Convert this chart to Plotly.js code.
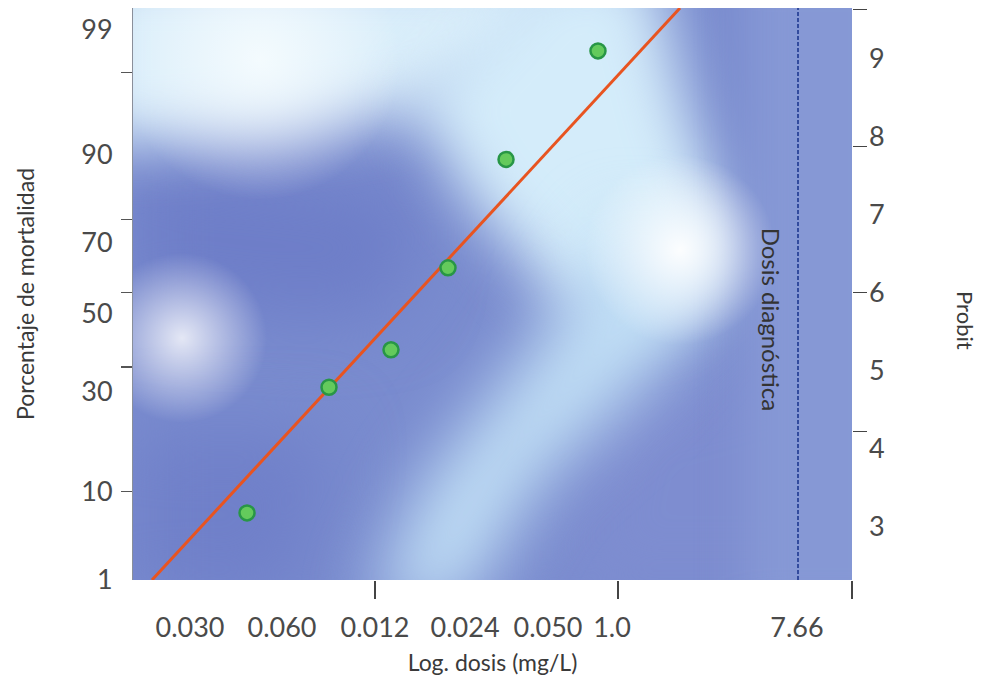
<!DOCTYPE html>
<html>
<head>
<meta charset="utf-8">
<script src="https://cdn.plot.ly/plotly-3.0.1.min.js"></script>
<style>html,body{margin:0;padding:0;background:#fff;}#chart{width:990px;height:686px;}</style>
</head>
<body>
<div id="chart"></div>
<script>
// ---- Data (x in relative log-dose position units 0-100, y in probit units) ----
const xTickPos    = [7.93, 20.72, 33.66, 46.18, 57.72, 66.62, 92.35];
const xTickLabels = ['0.030', '0.060', '0.012', '0.024', '0.050', '1.0', '7.66'];
const xTickMarks  = [33.66, 67.45, 100];

const pctTickPos    = [9.37, 7.77, 6.64, 5.74, 4.73, 3.45, 2.32];
const pctTickLabels = ['99', '90', '70', '50', '30', '10', '1'];
const pctTickMarks  = [8.82, 6.94, 6.0, 5.05, 3.45];

const probitTicks     = [3, 4, 5, 6, 7, 8, 9];
const probitTickMarks = [9.63, 7.88, 6.0, 4.22];

const obsX = [15.86, 27.26, 35.88, 43.81, 51.88, 64.67];
const obsY = [3.18, 4.79, 5.27, 6.32, 7.71, 9.10];

const fitX = [2.64, 76.08];
const fitY = [2.32, 9.65];

const diagDose = 92.49;
const yRange = [2.32, 9.65];
const xRange = [0, 100];

// ---- Background (decorative gradient) ----
function makeBg() {
  const W = 719, H = 572, ox = 133, oy = 8;
  const c = document.createElement('canvas');
  c.width = W; c.height = H;
  const g = c.getContext('2d');
  g.fillStyle = 'rgb(122,140,207)';
  g.fillRect(0, 0, W, H);
  function poly(pts, col, blur) {
    g.filter = 'blur(' + blur + 'px)';
    g.fillStyle = col;
    g.beginPath();
    pts.forEach((p, i) => { const x = p[0] - ox, y = p[1] - oy; if (i) g.lineTo(x, y); else g.moveTo(x, y); });
    g.closePath();
    g.fill();
  }
  function blob(x, y, r, col) {
    g.filter = 'none';
    const gr = g.createRadialGradient(x - ox, y - oy, 0, x - ox, y - oy, r);
    gr.addColorStop(0, col);
    gr.addColorStop(1, 'rgba(255,255,255,0)');
    g.fillStyle = gr;
    g.fillRect(0, 0, W, H);
  }
  // darker zones
  poly([[130,160],[420,190],[400,310],[300,320],[130,300]], 'rgb(110,126,200)', 35);
  poly([[130,430],[330,430],[300,600],[130,600]], 'rgb(112,128,201)', 35);
  poly([[600,400],[860,330],[860,600],[560,600]], 'rgb(126,141,208)', 35);
  // light top-left
  poly([[80,-40],[580,-40],[520,60],[420,110],[300,130],[180,140],[80,145]], 'rgb(218,238,250)', 30);
  // diagonal band
  poly([[410,100],[540,-40],[650,-40],[690,120],[740,250],[660,330],[560,300],[470,200]], 'rgb(212,236,250)', 30);
  poly([[620,220],[745,260],[650,380],[540,480],[460,610],[370,610],[420,490],[530,350]], 'rgb(192,222,245)', 34);
  // right strip
  poly([[745,-40],[900,-40],[900,620],[745,620]], 'rgb(134,152,213)', 22);
  // bright blobs
  blob(680, 250, 95, 'rgba(255,255,255,0.95)');
  blob(182, 338, 85, 'rgba(255,255,255,0.8)');
  blob(260, 60, 140, 'rgba(250,254,255,0.8)');
  return c.toDataURL('image/png');
}

const fam = 'Lato, "Open Sans", sans-serif';
const tickFont = {family: fam, size: 27, color: '#4a4a4a'};
const titleFont = {family: fam, size: 23, color: '#3a3a3a'};

const traces = [
  {
    x: fitX, y: fitY, type: 'scatter', mode: 'lines',
    line: {color: 'rgb(232,84,32)', width: 3},
    hoverinfo: 'skip', showlegend: false
  },
  {
    x: [diagDose, diagDose], y: yRange, type: 'scatter', mode: 'lines',
    line: {color: 'rgb(25,50,140)', width: 1.5, dash: '4px,2px'},
    hoverinfo: 'skip', showlegend: false
  },
  {
    x: obsX, y: obsY, type: 'scatter', mode: 'markers',
    marker: {size: 15, color: 'rgb(100,202,92)', line: {color: 'rgb(40,150,70)', width: 2.5}},
    hoverinfo: 'skip', showlegend: false
  }
];

const layout = {
  width: 990, height: 686,
  margin: {l: 133, r: 138, t: 8, b: 106},
  paper_bgcolor: '#ffffff',
  plot_bgcolor: 'rgb(122,140,207)',
  showlegend: false,
  xaxis: {
    range: xRange, showgrid: false, zeroline: false, showline: false,
    tickmode: 'array', tickvals: xTickPos, ticktext: xTickLabels,
    ticks: '', ticklabelstandoff: 29, tickfont: tickFont,
    title: {text: 'Log. dosis (mg/L)', font: titleFont, standoff: 12}
  },
  xaxis2: {
    range: xRange, overlaying: 'x', side: 'bottom', showgrid: false, zeroline: false,
    tickmode: 'array', tickvals: xTickMarks, ticks: 'outside', ticklen: 18,
    tickcolor: '#444', tickwidth: 1.5, showticklabels: false
  },
  yaxis: {
    range: yRange, showgrid: false, zeroline: false,
    showline: true, linecolor: '#8a8f9a', linewidth: 1,
    tickmode: 'array', tickvals: pctTickPos, ticktext: pctTickLabels,
    ticks: '', ticklabelstandoff: 14, tickfont: tickFont,
    title: {text: 'Porcentaje de mortalidad', font: titleFont, standoff: 40}
  },
  yaxis3: {
    range: yRange, overlaying: 'y', side: 'left', showgrid: false, zeroline: false,
    tickmode: 'array', tickvals: pctTickMarks, ticks: 'outside', ticklen: 11,
    tickcolor: '#555', tickwidth: 1.2, showticklabels: false
  },
  yaxis2: {
    range: yRange, overlaying: 'y', side: 'right', showgrid: false, zeroline: false,
    tickmode: 'array', tickvals: probitTicks, ticks: '', ticklabelstandoff: 16,
    tickfont: tickFont
  },
  yaxis4: {
    range: yRange, overlaying: 'y', side: 'right', showgrid: false, zeroline: false,
    tickmode: 'array', tickvals: probitTickMarks, ticks: 'outside', ticklen: 14,
    tickcolor: '#444', tickwidth: 1.2, showticklabels: false
  },
  images: [{
    source: makeBg(), xref: 'paper', yref: 'paper', x: 0, y: 1,
    sizex: 1, sizey: 1, sizing: 'stretch', layer: 'below', xanchor: 'left', yanchor: 'top'
  }],
  annotations: [
    {
      text: 'Dosis diagnóstica', x: 88.8, y: 5.65, xref: 'x', yref: 'y',
      showarrow: false, textangle: 90, font: {family: fam, size: 24, color: '#333'}
    },
    {
      text: 'Probit', x: 1.1586, y: 5.65, xref: 'paper', yref: 'y', xanchor: 'center',
      showarrow: false, textangle: 90, font: {family: fam, size: 22, color: '#3a3a3a'}
    }
  ]
};

// empty traces so the overlay axes are drawn
traces.push({x: [null], y: [null], xaxis: 'x2', yaxis: 'y3', type: 'scatter', hoverinfo: 'skip', showlegend: false});
traces.push({x: [null], y: [null], xaxis: 'x', yaxis: 'y2', type: 'scatter', hoverinfo: 'skip', showlegend: false});
traces.push({x: [null], y: [null], xaxis: 'x', yaxis: 'y4', type: 'scatter', hoverinfo: 'skip', showlegend: false});

Plotly.newPlot('chart', traces, layout, {staticPlot: true, displayModeBar: false});
</script>
</body>
</html>
